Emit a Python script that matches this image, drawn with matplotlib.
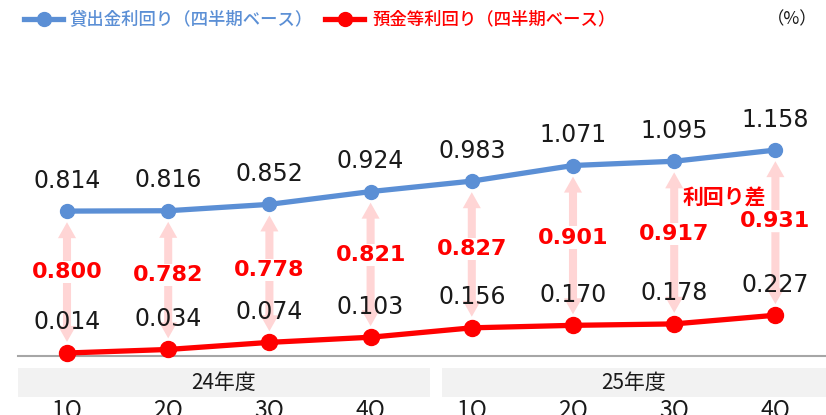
import matplotlib
matplotlib.use("Agg")
import matplotlib.pyplot as plt
from matplotlib.patches import Rectangle
from matplotlib.lines import Line2D

quarters = ["1Q", "2Q", "3Q", "4Q", "1Q", "2Q", "3Q", "4Q"]
years = ["24年度", "25年度"]
loan_yield = [0.814, 0.816, 0.852, 0.924, 0.983, 1.071, 1.095, 1.158]
deposit_yield = [0.014, 0.034, 0.074, 0.103, 0.156, 0.170, 0.178, 0.227]
spread = [0.800, 0.782, 0.778, 0.821, 0.827, 0.901, 0.917, 0.931]
spread_label_y = [0.47, 0.455, 0.48, 0.565, 0.60, 0.665, 0.685, 0.76]

BLUE = "#5B8FD5"
RED = "#FF0000"
PINK = "#FFD5D5"
JP = ["Noto Sans CJK JP", "DejaVu Sans"]

W, H = 826, 415
fig = plt.figure(figsize=(W / 100, H / 100), dpi=100)
ax = fig.add_axes([0, 0, 1, 1])
ax.axis("off")

# pixel mapping: x pixel = 67 + 101.2*i ; y pixel = 355.5 - 177.4*v
x0, dx = 67.0, 101.2
y0, dy = 355.5, 177.4
ax.set_xlim((0 - x0) / dx, (W - x0) / dx)
ax.set_ylim((y0 - H) / dy, (y0 - 0) / dy)

def px_x(p):
    return (p - x0) / dx

def px_y(p):
    return (y0 - p) / dy

xs = list(range(len(quarters)))

# baseline
ax.plot([px_x(18), px_x(W)], [0, 0], color="#A6A6A6", lw=1.5, zorder=1)

# arrows (double-headed, light pink)
for i in xs:
    mid = (loan_yield[i] + deposit_yield[i]) / 2
    style = "simple,head_length=11.5,head_width=13,tail_width=5.8"
    ax.annotate("", xy=(i, loan_yield[i]), xytext=(i, mid),
                arrowprops=dict(arrowstyle=style, mutation_scale=1, color=PINK,
                                lw=0, shrinkA=0, shrinkB=8), zorder=2)
    ax.annotate("", xy=(i, deposit_yield[i]), xytext=(i, mid),
                arrowprops=dict(arrowstyle=style, mutation_scale=1, color=PINK,
                                lw=0, shrinkA=0, shrinkB=8), zorder=2)

# lines
ax.plot(xs, loan_yield, color=BLUE, lw=3.8, marker="o", ms=10, zorder=4)
ax.plot(xs, deposit_yield, color=RED, lw=3.8, marker="o", ms=11.5, zorder=4)

# value labels
for i in xs:
    ax.annotate(f"{loan_yield[i]:.3f}", (i, loan_yield[i]), xytext=(0, 22),
                textcoords="offset points", ha="center", va="center",
                fontsize=17, color="#1a1a1a", family="DejaVu Sans", zorder=5)
    ax.annotate(f"{deposit_yield[i]:.3f}", (i, deposit_yield[i]), xytext=(0, 22),
                textcoords="offset points", ha="center", va="center",
                fontsize=17, color="#1a1a1a", family="DejaVu Sans", zorder=5)
    ax.text(i, spread_label_y[i], f"{spread[i]:.3f}", ha="center", va="center",
            fontsize=16, fontweight="bold", color=RED, family="DejaVu Sans",
            bbox=dict(boxstyle="square,pad=0.05", fc="white", ec="none"), zorder=5)

ax.text(px_x(724), px_y(198), "利回り差", ha="center", va="center", fontsize=15,
        fontweight="bold", color=RED, family=JP, zorder=5)

# year bands
bands = [(18, 430), (442, W)]
label_cx = [224, 634]
for (l, r), yl, cx in zip(bands, years, label_cx):
    ax.add_patch(Rectangle((px_x(l), px_y(397)), px_x(r) - px_x(l),
                           px_y(368) - px_y(397), fc="#F2F2F2", ec="none", zorder=1))
    ax.text(px_x(cx), px_y(383), yl, ha="center", va="center", fontsize=15,
            color="#1a1a1a", family=JP, zorder=2)

for i, q in enumerate(quarters):
    ax.text(i, px_y(398), q, ha="center", va="top", fontsize=16.5, color="#1a1a1a",
            family=JP, zorder=2)

# legend
legend_items = [(24, 63, 70, "貸出金利回り（四半期ベース）", BLUE),
                (325, 364, 372, "預金等利回り（四半期ベース）", RED)]
for l, r, t, label, c in legend_items:
    fig.add_artist(Line2D([l / W, r / W], [1 - 19 / H, 1 - 19 / H], color=c, lw=3.8,
                          transform=fig.transFigure))
    fig.add_artist(Line2D([(l + r) / 2 / W], [1 - 19 / H], color=c, marker="o", ms=10,
                          lw=0, transform=fig.transFigure))
    fig.text(t / W, 1 - 19 / H, label, ha="left", va="center", fontsize=12.5,
             color=c, family=JP, fontweight="medium")

fig.text(818 / W, 1 - 19 / H, "（%）", ha="right", va="center", fontsize=12.5,
         color="#1a1a1a", family=JP)

fig.savefig("out.png", dpi=100)
